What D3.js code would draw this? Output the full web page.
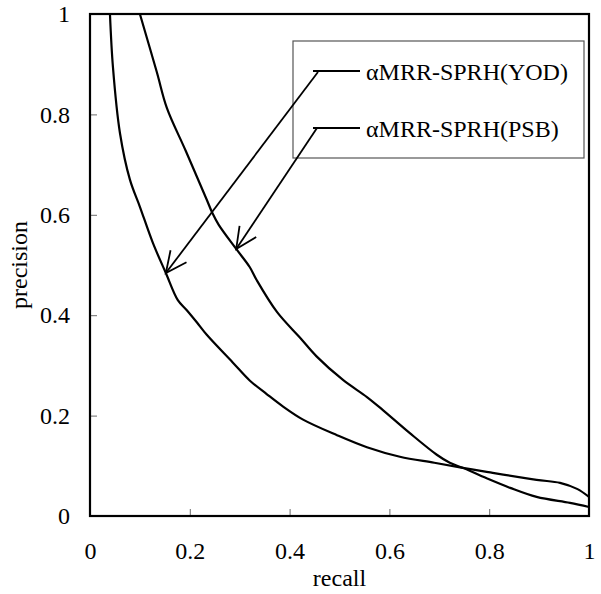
<!DOCTYPE html>
<html>
<head>
<meta charset="utf-8">
<script src="https://cdn.jsdelivr.net/npm/d3@7"></script>
<style>
  body { margin: 0; background: #fff; }
  svg text { font-family: "Liberation Serif", "Times New Roman", serif; fill: #000; }
</style>
</head>
<body>
<div id="chart"></div>
<script>
// tick values and their labels
var tickValues = [0, 0.2, 0.4, 0.6, 0.8, 1];
var tickLabels = ["0", "0.2", "0.4", "0.6", "0.8", "1"];

// series names
var seriesNames = ["\u03b1MRR-SPRH(YOD)", "\u03b1MRR-SPRH(PSB)"];

// YOD curve
var yodRecall = [0.04, 0.046, 0.06, 0.08, 0.10, 0.126, 0.152, 0.176, 0.194, 0.214, 0.234, 0.286, 0.32, 0.354, 0.387, 0.427, 0.495, 0.555, 0.621, 0.69, 0.747, 0.795, 0.895, 0.942, 0.976, 1.0];
var yodPrecision = [1.0, 0.894, 0.763, 0.67, 0.616, 0.544, 0.484, 0.43, 0.41, 0.386, 0.361, 0.306, 0.27, 0.243, 0.218, 0.192, 0.161, 0.137, 0.118, 0.106, 0.096, 0.088, 0.072, 0.066, 0.054, 0.038];

// PSB curve
var psbRecall = [0.10, 0.134, 0.154, 0.192, 0.234, 0.245, 0.258, 0.293, 0.32, 0.334, 0.375, 0.421, 0.454, 0.507, 0.555, 0.587, 0.641, 0.695, 0.721, 0.747, 0.795, 0.842, 0.895, 0.962, 1.0];
var psbPrecision = [1.0, 0.884, 0.813, 0.727, 0.63, 0.604, 0.58, 0.532, 0.496, 0.47, 0.406, 0.355, 0.318, 0.271, 0.237, 0.211, 0.165, 0.122, 0.106, 0.096, 0.075, 0.056, 0.038, 0.026, 0.018];

// arrow targets (recall, precision) on each curve
var arrowTargets = [[0.152, 0.484], [0.293, 0.532]];

var width = 601, height = 594;
var plot = {left: 90, right: 589, top: 14, bottom: 516};
var fontSize = "24px";

var svg = d3.select("#chart").append("svg")
    .attr("width", width)
    .attr("height", height);

var x = d3.scaleLinear().domain([0, 1]).range([plot.left, plot.right]);
var y = d3.scaleLinear().domain([0, 1]).range([plot.bottom, plot.top]);

// axes with inward ticks
var xAxis = d3.axisBottom(x)
    .tickValues(tickValues)
    .tickFormat(function(d, i) { return tickLabels[i]; })
    .tickSizeInner(-7)
    .tickSizeOuter(0)
    .tickPadding(26);

var yAxis = d3.axisLeft(y)
    .tickValues(tickValues)
    .tickFormat(function(d, i) { return tickLabels[i]; })
    .tickSizeInner(-7)
    .tickSizeOuter(0)
    .tickPadding(20);

var gx = svg.append("g")
    .attr("transform", "translate(0," + plot.bottom + ")")
    .call(xAxis);
var gy = svg.append("g")
    .attr("transform", "translate(" + plot.left + ",0)")
    .call(yAxis);

[gx, gy].forEach(function(g) {
  g.select(".domain").remove();
  g.selectAll(".tick line").attr("stroke", "#6b6b6b").attr("stroke-width", 1);
  g.selectAll(".tick text")
      .style("font-family", "'Liberation Serif', 'Times New Roman', serif")
      .style("font-size", fontSize)
      .attr("fill", "#000");
});

// axis titles
svg.append("text")
    .attr("x", (plot.left + plot.right) / 2)
    .attr("y", 586)
    .attr("text-anchor", "middle")
    .style("font-size", fontSize)
    .text("recall");

svg.append("text")
    .attr("transform", "translate(27," + ((plot.top + plot.bottom) / 2) + ") rotate(-90)")
    .attr("text-anchor", "middle")
    .style("font-size", fontSize)
    .text("precision");

// curves
var line = d3.line()
    .curve(d3.curveCatmullRom.alpha(0.5))
    .x(function(d) { return x(d[0]); })
    .y(function(d) { return y(d[1]); });

var yodData = yodRecall.map(function(r, i) { return [r, yodPrecision[i]]; });
var psbData = psbRecall.map(function(r, i) { return [r, psbPrecision[i]]; });

[yodData, psbData].forEach(function(data) {
  svg.append("path")
      .datum(data)
      .attr("fill", "none")
      .attr("stroke", "#000")
      .attr("stroke-width", 2.2)
      .attr("stroke-linejoin", "round")
      .attr("d", line);
});

// frame
svg.append("rect")
    .attr("x", plot.left)
    .attr("y", plot.top)
    .attr("width", plot.right - plot.left)
    .attr("height", plot.bottom - plot.top)
    .attr("fill", "none")
    .attr("stroke", "#000")
    .attr("stroke-width", 2.2);

// legend box
var legend = svg.append("g");
legend.append("rect")
    .attr("x", 293)
    .attr("y", 41)
    .attr("width", 291)
    .attr("height", 117)
    .attr("fill", "#fff")
    .attr("stroke", "#555")
    .attr("stroke-width", 1.2);

var legendY = [71, 128];
seriesNames.forEach(function(name, i) {
  legend.append("line")
      .attr("x1", 313).attr("x2", 360)
      .attr("y1", legendY[i]).attr("y2", legendY[i])
      .attr("stroke", "#000")
      .attr("stroke-width", 2.2);
  legend.append("text")
      .attr("x", 366)
      .attr("y", legendY[i] + 8.5)
      .style("font-size", fontSize)
      .text(name);
});

// arrows from legend lines to curves
svg.append("defs").append("marker")
    .attr("id", "head")
    .attr("markerUnits", "userSpaceOnUse")
    .attr("viewBox", "-24 -12 26 24")
    .attr("refX", 0).attr("refY", 0)
    .attr("markerWidth", 26).attr("markerHeight", 24)
    .attr("orient", "auto")
  .append("path")
    .attr("d", "M-21,-10L0,0L-21,10")
    .attr("fill", "none")
    .attr("stroke", "#000")
    .attr("stroke-width", 1.8);

var arrowStart = [[318, 72], [317, 128]];
arrowTargets.forEach(function(t, i) {
  svg.append("line")
      .attr("x1", arrowStart[i][0]).attr("y1", arrowStart[i][1])
      .attr("x2", x(t[0])).attr("y2", y(t[1]))
      .attr("stroke", "#000")
      .attr("stroke-width", 1.8)
      .attr("marker-end", "url(#head)");
});
</script>
</body>
</html>
